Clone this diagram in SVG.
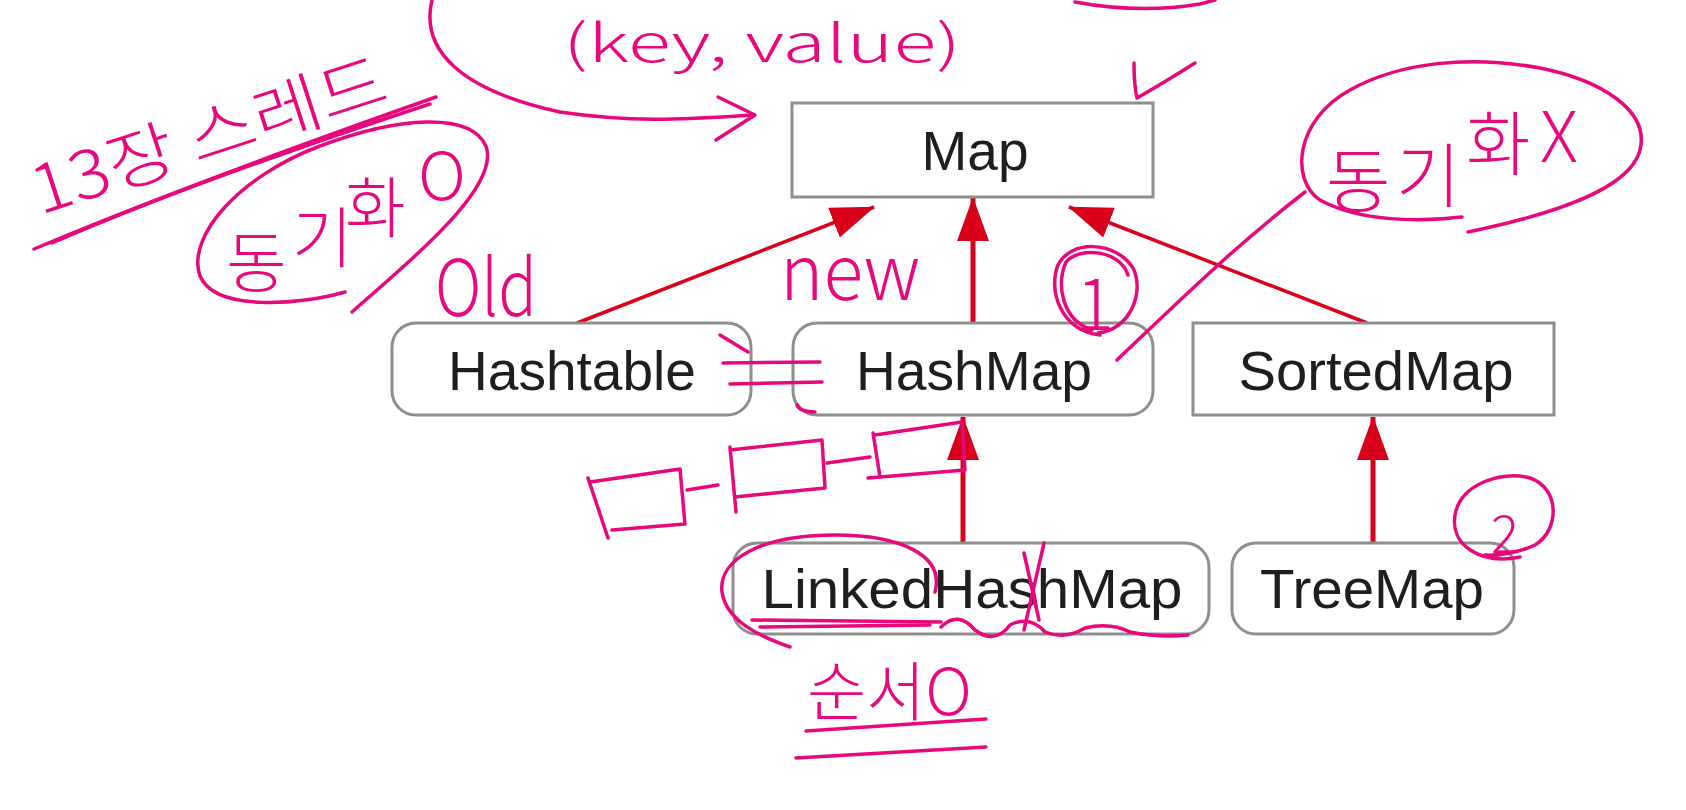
<svg xmlns="http://www.w3.org/2000/svg" width="1686" height="810" viewBox="0 0 1686 810">
<style>
.box{fill:#ffffff;stroke:#8e8e8e;stroke-width:3}
.lbl{font-family:"Liberation Sans",Arial,sans-serif;font-size:55px;fill:#1e1e1e;text-anchor:middle}
.edge{stroke:#d9001b;fill:none}
.thin{stroke-width:3.5}
.thick{stroke-width:5}
.ink{stroke:#e8087e;fill:none;stroke-width:3.5;stroke-linecap:round;stroke-linejoin:round}
.hw{font-family:"Noto Sans CJK KR","Noto Sans",sans-serif;font-weight:300;fill:#e8087e}
</style>
<defs>
<marker id="ah" viewBox="0 0 44 32" refX="43" refY="16" markerWidth="44" markerHeight="32" markerUnits="userSpaceOnUse" orient="auto">
<path d="M0,0 L44,16 L0,32 z" fill="#d9001b"/>
</marker>
</defs>
<rect width="1686" height="810" fill="#ffffff"/>

<g id="connectors">
<path class="edge thin" d="M577,323 L874,207" marker-end="url(#ah)"/>
<path class="edge thick" d="M973,323 L973,198" marker-end="url(#ah)"/>
<path class="edge thin" d="M1367,323 L1069,207" marker-end="url(#ah)"/>
<path class="edge thick" d="M963,543 L963,417" marker-end="url(#ah)"/>
<path class="edge thick" d="M1373,543 L1373,417" marker-end="url(#ah)"/>
</g>

<g id="node-map">
<rect class="box" x="792" y="103" width="361" height="94"/>
<text class="lbl" x="975" y="170" textLength="107" lengthAdjust="spacingAndGlyphs">Map</text>
</g>
<g id="node-hashtable">
<rect class="box" x="392" y="323" width="359" height="92" rx="24"/>
<text class="lbl" x="572" y="390" textLength="248" lengthAdjust="spacingAndGlyphs">Hashtable</text>
</g>
<g id="node-hashmap">
<rect class="box" x="793" y="323" width="360" height="92" rx="24"/>
<text class="lbl" x="974" y="390" textLength="236" lengthAdjust="spacingAndGlyphs">HashMap</text>
</g>
<g id="node-sortedmap">
<rect class="box" x="1193" y="323" width="361" height="92"/>
<text class="lbl" x="1376" y="390" textLength="275" lengthAdjust="spacingAndGlyphs">SortedMap</text>
</g>
<g id="node-linkedhashmap">
<rect class="box" x="733" y="543" width="476" height="91" rx="24"/>
<text class="lbl" x="972" y="608" textLength="421" lengthAdjust="spacingAndGlyphs">LinkedHashMap</text>
</g>
<g id="node-treemap">
<rect class="box" x="1232" y="543" width="282" height="91" rx="24"/>
<text class="lbl" x="1372" y="608" textLength="224" lengthAdjust="spacingAndGlyphs">TreeMap</text>
</g>

<g id="annotations">
<!-- top: (key, value) and loop arrow -->
<text class="hw" x="563" y="62" font-size="52" textLength="398" lengthAdjust="spacingAndGlyphs">(key, value)</text>
<path class="ink" d="M432,0 C420,50 460,90 560,112 C640,124 700,118 754,115"/>
<path class="ink" d="M718,97 L755,115 L716,140"/>
<path class="ink" d="M1075,2 Q1140,14 1200,4 L1215,0"/>
<path class="ink" d="M1134,63 Q1134,85 1137,98 Q1165,82 1195,63"/>

<!-- 13장 스레드 -->
<text class="hw" font-size="66" transform="translate(40,215) rotate(-18)" textLength="370" lengthAdjust="spacingAndGlyphs">13장 스레드</text>
<path class="ink" d="M34,249 C150,200 300,145 436,97"/>
<path class="ink" d="M52,243 C170,192 320,140 430,104"/>

<!-- 동기화 O -->
<path class="ink" d="M345,292 C300,305 215,312 200,276 C186,236 240,176 320,146 C400,116 470,112 486,146 C500,186 420,252 352,312"/>
<text class="hw" font-size="66" x="226 292 345" y="287 262 232">동기화</text>
<text class="hw" font-size="66" x="418" y="200">O</text>

<!-- Old / new -->
<text class="hw" x="435" y="316" font-size="78" textLength="102" lengthAdjust="spacingAndGlyphs">Old</text>
<text class="hw" x="780" y="300" font-size="76" textLength="140" lengthAdjust="spacingAndGlyphs">new</text>

<!-- = between Hashtable and HashMap -->
<path class="ink" d="M720,335 L748,352"/>
<path class="ink" d="M723,363 L820,362"/>
<path class="ink" d="M730,384 L822,382"/>
<path class="ink" d="M797,405 Q800,412 815,412"/>

<!-- circled 1 -->
<path class="ink" d="M1100,335 C1060,330 1048,290 1058,265 C1070,240 1115,240 1133,268 C1145,292 1130,330 1098,333 M1092,330 C1062,320 1056,285 1066,262 C1080,246 1120,250 1128,275"/>
<text class="hw" x="1095" y="330" font-size="72" text-anchor="middle">1</text>

<!-- line to 동기화X -->
<path class="ink" d="M1117,360 C1170,310 1230,250 1305,192"/>
<!-- 동기화X ellipse -->
<path class="ink" d="M1462,217 C1420,222 1360,222 1320,200 C1290,180 1295,120 1350,90 C1400,62 1470,55 1540,68 C1600,80 1650,110 1640,150 C1630,190 1550,215 1468,232"/>
<text class="hw" font-size="70" x="1326 1396 1466 1540" y="207 202 170 162">동기화X</text>

<!-- linked list sketch -->
<path class="ink" d="M590,482 L680,469 L685,524 L612,530 M588,478 L608,538"/>
<path class="ink" d="M687,490 L718,485"/>
<path class="ink" d="M730,450 L822,440 L825,488 L735,497 M730,447 L736,512"/>
<path class="ink" d="M827,463 L870,457"/>
<path class="ink" d="M875,435 L962,422 L965,470 L868,478 M873,433 L880,477"/>

<!-- Linked ellipse and underlines -->
<path class="ink" d="M935,592 C945,555 900,535 835,535 C760,535 718,560 722,592 C726,620 758,636 790,647"/>
<path class="ink" d="M752,620 L941,622" stroke-width="5"/>
<path class="ink" d="M760,627 L930,625"/>
<path class="ink" d="M941,627 Q958,610 975,630 Q995,645 1010,625 Q1030,615 1045,632 Q1065,640 1085,628 Q1110,622 1130,632 Q1160,638 1188,635"/>
<!-- X on s -->
<path class="ink" d="M1024,553 L1039,620 M1044,543 L1024,630"/>
<path class="ink" d="M1033,588 L1036,606" stroke-width="8"/>

<!-- 순서O -->
<text class="hw" x="807" y="715" font-size="64" textLength="165" lengthAdjust="spacingAndGlyphs">순서O</text>
<path class="ink" d="M806,731 L986,719"/>
<path class="ink" d="M796,758 L986,747"/>

<!-- circled 2 -->
<path class="ink" d="M1520,557 C1480,565 1450,545 1455,515 C1460,485 1500,470 1530,478 C1560,488 1560,530 1535,545 C1520,552 1500,556 1485,555"/>
<text class="hw" x="1505" y="553" font-size="52" text-anchor="middle">2</text>
</g>
</svg>
